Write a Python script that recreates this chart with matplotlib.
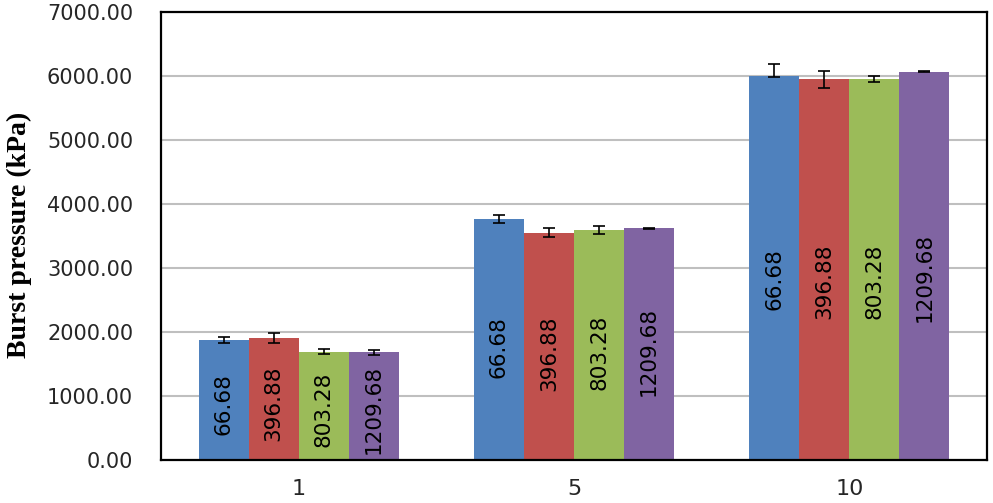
import matplotlib
matplotlib.use("Agg")
import matplotlib.pyplot as plt
import numpy as np

categories = ["1", "5", "10"]
series_names = ["66.68", "396.88", "803.28", "1209.68"]
colors = ["#4F81BD", "#C0504D", "#9BBB59", "#8064A2"]

blue = [1875, 3760, 6000]
red = [1901, 3547, 5953]
green = [1683, 3589, 5953]
purple = [1680, 3620, 6068]
values = [blue, red, green, purple]

# error bars (lower, upper)
err_lo = [[50, 62, 15], [78, 58, 136], [30, 58, 42], [33, 8, 10]]
err_hi = [[47, 68, 187], [83, 83, 125], [46, 62, 42], [33, 8, 10]]

yticks = np.arange(0, 7001, 1000)

fig = plt.figure(figsize=(9.93, 5.03), dpi=100)
ax = fig.add_axes([161 / 993, 1 - 460 / 503, (987 - 161) / 993, (460 - 12) / 503])

x = np.arange(len(categories))
w = 0.1816
for i, (name, vals) in enumerate(zip(series_names, values)):
    pos = x + (i - 1.5) * w
    ax.bar(pos, vals, width=w, color=colors[i], zorder=2)
    ax.errorbar(pos, vals, yerr=[err_lo[i], err_hi[i]], fmt="none",
                ecolor="black", elinewidth=1.2, capsize=4.5, capthick=1.2, zorder=3)
    for xp, v in zip(pos, vals):
        ax.text(xp, v * 0.47, name, rotation=90, ha="center", va="center",
                fontsize=15.5, color="black", zorder=4)

ax.set_xlim(-0.5, 2.5)
ax.set_ylim(0, 7000)
ax.set_yticks(yticks)
ax.set_yticklabels(["%.2f" % t for t in yticks], fontsize=15, color="#262626")
ax.set_xticks(x)
ax.set_xticklabels(categories, fontsize=16, color="#262626")
ax.tick_params(axis="y", length=0, pad=20)
ax.tick_params(axis="x", length=0, pad=14)
ax.grid(axis="y", color="#BFBFBF", linewidth=1.5, zorder=0)
ax.set_axisbelow(True)
for s in ax.spines.values():
    s.set_color("black")
    s.set_linewidth(1.6)

fig.text(19 / 993, 1 - 235 / 503, "Burst pressure (kPa)", rotation=90,
         ha="center", va="center", fontsize=20, fontweight="bold",
         family="Liberation Serif")

fig.savefig("out.png", dpi=100)
